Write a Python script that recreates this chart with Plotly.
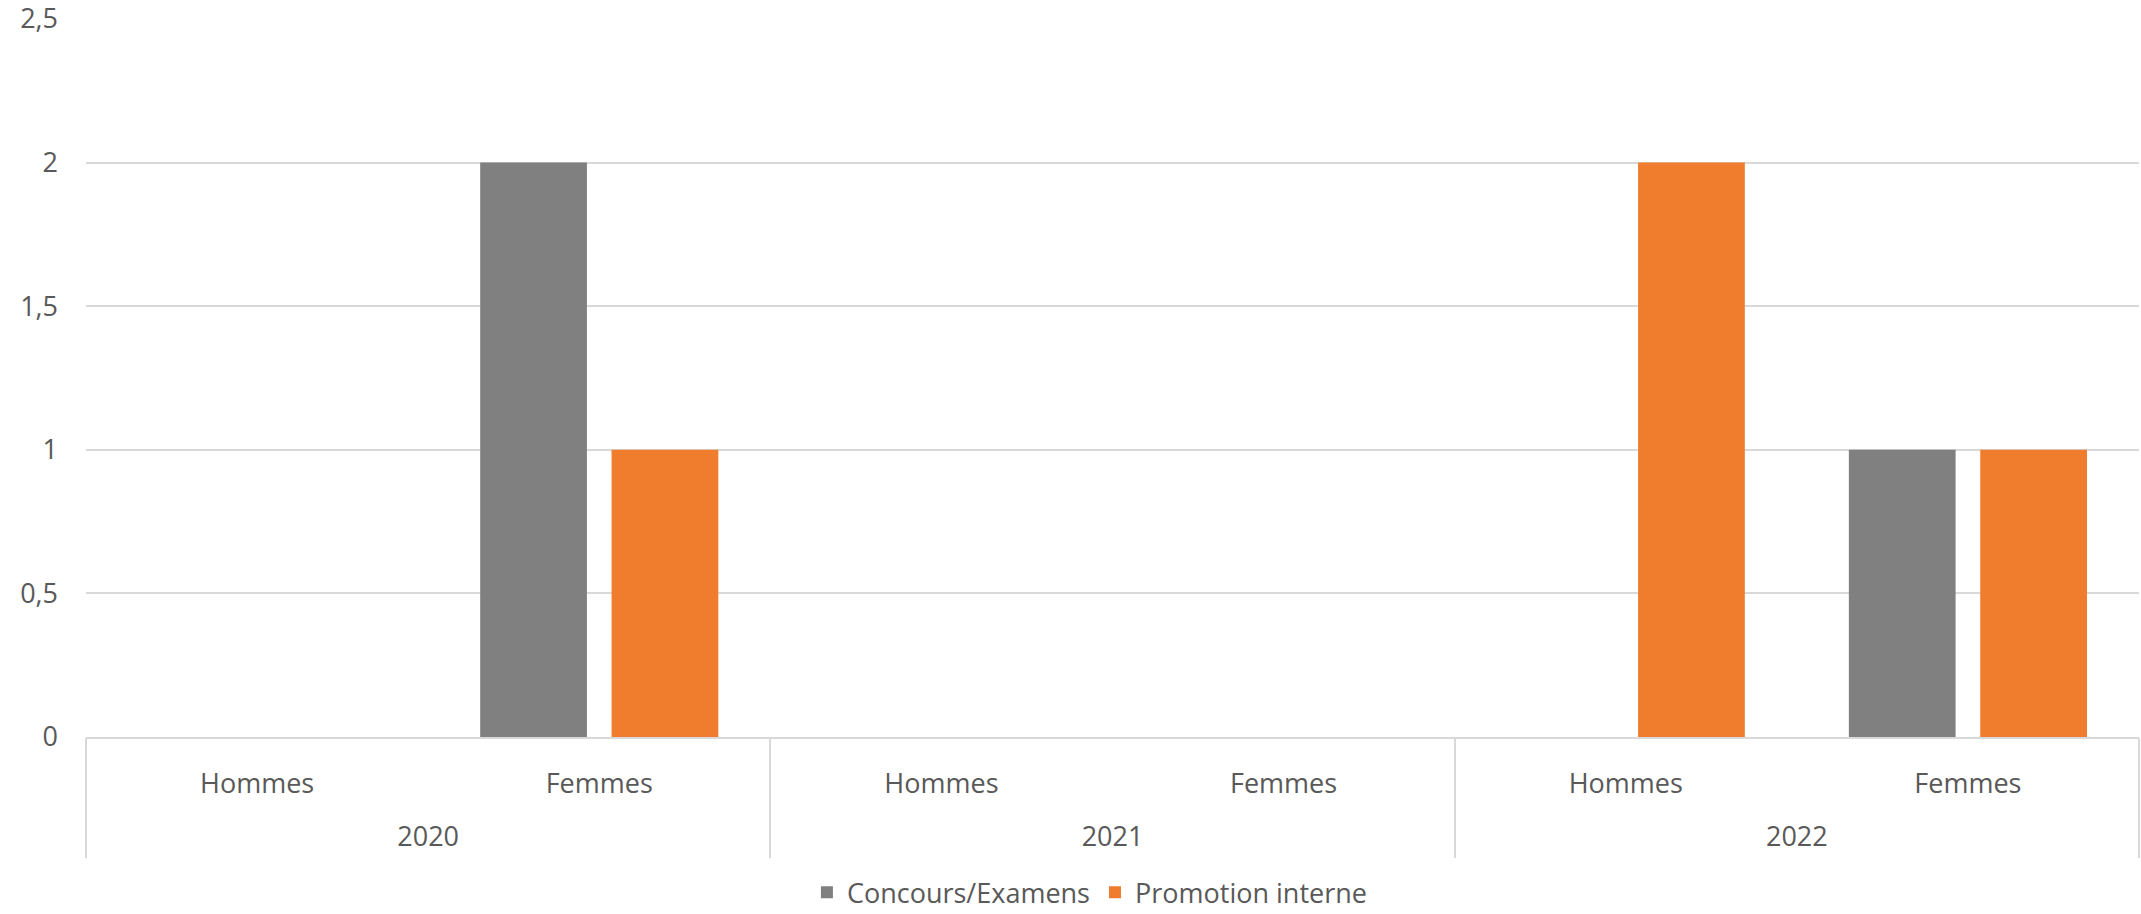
import plotly.graph_objects as go

years = ["2020", "2021", "2022"]
sexes = ["Hommes", "Femmes"]
concours = [0, 2, 0, 0, 0, 1]
promotion = [0, 1, 0, 0, 2, 1]
y_ticks = [0, 0.5, 1, 1.5, 2, 2.5]
y_labels = ["0", "0,5", "1", "1,5", "2", "2,5"]

cats = [f"{y}|{s}" for y in years for s in sexes]
cat_text = [s for y in years for s in sexes]
n_sub = len(sexes)
year_centers = [i * n_sub + (n_sub - 1) / 2 for i in range(len(years))]
year_bounds = [i * n_sub - 0.5 for i in range(len(years) + 1)]

font_color = "#595959"
FONT = "Open Sans"
FS = 27

fig = go.Figure()
fig.add_trace(go.Bar(x=cats, y=concours, name="Concours/Examens",
                     marker=dict(color="#808080", line=dict(width=0))))
fig.add_trace(go.Bar(x=cats, y=promotion, name="Promotion interne",
                     marker=dict(color="#F07D2E", line=dict(width=0))))
# invisible helper trace so the year axis is drawn
fig.add_trace(go.Scatter(x=year_centers, y=[0] * len(years), xaxis="x2", mode="markers",
                         marker=dict(opacity=0), showlegend=False, hoverinfo="skip"))

fig.update_layout(
    width=2141, height=914,
    margin=dict(l=86, r=2, t=19, b=177, autoexpand=False),
    paper_bgcolor="white", plot_bgcolor="white",
    barmode="group", bargap=0.232, bargroupgap=0.1875,
    font=dict(family=FONT, size=FS, color=font_color),
    legend=dict(orientation="h", x=0.489, xanchor="center", y=-0.217, yanchor="middle",
                font=dict(size=FS, color=font_color), traceorder="normal"),
    showlegend=True,
    xaxis=dict(type="category", categoryorder="array", categoryarray=cats,
               tickvals=cats, ticktext=cat_text, range=[-0.5, len(cats) - 0.5],
               showline=True, linecolor="#D9D9D9", linewidth=1.5, showgrid=False,
               ticks="", ticklabelstandoff=22, tickfont=dict(size=FS, color=font_color)),
    xaxis2=dict(overlaying="x", anchor="y", side="bottom", type="linear",
                range=[-0.5, len(cats) - 0.5], tickvals=year_centers, ticktext=years,
                showgrid=False, showline=False, zeroline=False, ticks="",
                ticklabelstandoff=81, tickfont=dict(size=FS, color=font_color),
                minor=dict(tickvals=year_bounds, ticks="outside", ticklen=120,
                           tickcolor="#D9D9D9", tickwidth=1.5)),
    yaxis=dict(range=[0, 2.5], tickvals=y_ticks, ticktext=y_labels, showgrid=True,
               gridcolor="#D9D9D9", gridwidth=1.5, zeroline=False, showline=False,
               ticks="", ticklabelstandoff=27, ticklabeloverflow="allow",
               tickfont=dict(size=FS, color=font_color)),
)

fig.write_html("out.html", config={"displayModeBar": False},
               post_script="document.body.style.margin='0';document.body.style.overflow='hidden';")
